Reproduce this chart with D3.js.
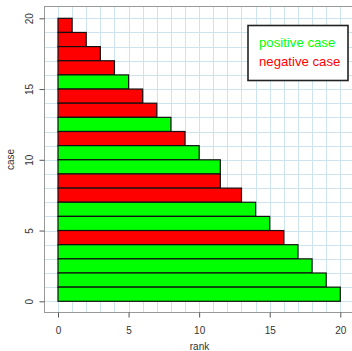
<!DOCTYPE html>
<html>
<head>
<meta charset="utf-8">
<script src="https://cdn.jsdelivr.net/npm/d3@7"></script>
<style>
  html, body { margin: 0; padding: 0; background: #fff; }
  svg { display: block; font-family: "Liberation Sans", Arial, sans-serif; }
</style>
</head>
<body>
<div id="chart"></div>
<script>
// bottom of each bar on the case axis, top bar first
const cases = [19, 18, 17, 16, 15, 14, 13, 12, 11, 10, 9, 8, 7, 6, 5, 4, 3, 2, 1, 0];
const ranks = [1, 2, 3, 4, 5, 6, 7, 8, 9, 10, 11.5, 11.5, 13, 14, 15, 16, 17, 18, 19, 20];
const outcome = ["neg", "neg", "neg", "neg", "pos", "neg", "neg", "pos", "neg", "pos",
                 "pos", "neg", "neg", "pos", "pos", "neg", "pos", "pos", "pos", "pos"];
const xTicks = [0, 5, 10, 15, 20];
const yTicks = [0, 5, 10, 15, 20];
const legendLabels = ["positive case", "negative case"];

let width = 352;
let height = 351;
let box = { left: 44.5, top: 6.5, right: 354.5, bottom: 312.5 };

const colors = { pos: "#00ff00", neg: "#ff0000" };

const svg = d3
  .select("#chart")
  .append("svg")
  .attr("width", width)
  .attr("height", height);

const xScale = d3.scaleLinear().domain([0, 20]).range([58, 340.3]);
const yScale = d3.scaleLinear().domain([0, 20]).range([301.3, 18.3]);

// light blue grid every unit
const gridX = d3.range(-1, 22).filter((v) => xScale(v) >= box.left && xScale(v) <= box.right);
const gridY = d3.range(-1, 22).filter((v) => yScale(v) >= box.top && yScale(v) <= box.bottom);

svg
  .append("g")
  .selectAll("line")
  .data(gridX)
  .enter()
  .append("line")
  .attr("x1", (d) => Math.round(xScale(d)) + 0.5)
  .attr("x2", (d) => Math.round(xScale(d)) + 0.5)
  .attr("y1", box.top)
  .attr("y2", box.bottom)
  .attr("stroke", "#cde3ee")
  .attr("stroke-width", 1);

svg
  .append("g")
  .selectAll("line")
  .data(gridY)
  .enter()
  .append("line")
  .attr("x1", box.left)
  .attr("x2", box.right)
  .attr("y1", (d) => Math.round(yScale(d)) + 0.5)
  .attr("y2", (d) => Math.round(yScale(d)) + 0.5)
  .attr("stroke", "#cde3ee")
  .attr("stroke-width", 1);

// bars
svg
  .append("g")
  .selectAll("rect")
  .data(ranks)
  .enter()
  .append("rect")
  .attr("x", xScale(0))
  .attr("y", (d, i) => yScale(cases[i] + 1))
  .attr("width", (d) => xScale(d) - xScale(0))
  .attr("height", (d, i) => yScale(cases[i]) - yScale(cases[i] + 1))
  .attr("fill", (d, i) => colors[outcome[i]])
  .attr("stroke", "#111")
  .attr("stroke-width", 1.2);

// plot box
svg
  .append("rect")
  .attr("x", box.left)
  .attr("y", box.top)
  .attr("width", box.right - box.left)
  .attr("height", box.bottom - box.top)
  .attr("fill", "none")
  .attr("stroke", "#999")
  .attr("stroke-width", 1);

// axes
const xAxis = d3.axisBottom(xScale).tickValues(xTicks).tickSize(5).tickPadding(9);
const yAxis = d3.axisLeft(yScale).tickValues(yTicks).tickSize(5).tickPadding(6);

const gx = svg
  .append("g")
  .attr("transform", `translate(0,${box.bottom})`)
  .call(xAxis);
gx.select(".domain").remove();
gx.selectAll("line").attr("stroke", "#555");
gx.selectAll("text").attr("fill", "#333").style("font-size", "10px").style("font-family", "Liberation Sans, Arial, sans-serif");

const gy = svg
  .append("g")
  .attr("transform", `translate(${box.left},0)`)
  .call(yAxis);
gy.select(".domain").remove();
gy.selectAll("line").attr("stroke", "#555");
gy.selectAll("text")
  .attr("fill", "#333")
  .style("font-size", "10px")
  .style("font-family", "Liberation Sans, Arial, sans-serif")
  .attr("x", 0)
  .attr("dy", 0)
  .attr("text-anchor", "middle")
  .attr("transform", (d) => `translate(-12,${yScale(d) - yScale(d)}) rotate(-90)`);

// axis titles
svg
  .append("text")
  .attr("text-anchor", "middle")
  .attr("x", (box.left + box.right) / 2)
  .attr("y", 350)
  .attr("font-size", 10)
  .attr("fill", "#333")
  .text("rank");

svg
  .append("text")
  .attr("text-anchor", "middle")
  .attr("transform", `translate(13.5,${(box.top + box.bottom) / 2}) rotate(-90)`)
  .attr("font-size", 10)
  .attr("fill", "#333")
  .text("case");

// legend
const legend = svg.append("g");
legend
  .append("rect")
  .attr("x", 248)
  .attr("y", 25.5)
  .attr("width", 100)
  .attr("height", 55)
  .attr("fill", "#fff")
  .attr("stroke", "#222")
  .attr("stroke-width", 1.6);

legend
  .selectAll("text")
  .data(legendLabels)
  .enter()
  .append("text")
  .attr("x", 259)
  .attr("y", (d, i) => 46.5 + i * 19.5)
  .attr("font-size", 13.2)
  .attr("fill", (d, i) => (i === 0 ? colors.pos : colors.neg))
  .text((d) => d);
</script>
</body>
</html>
